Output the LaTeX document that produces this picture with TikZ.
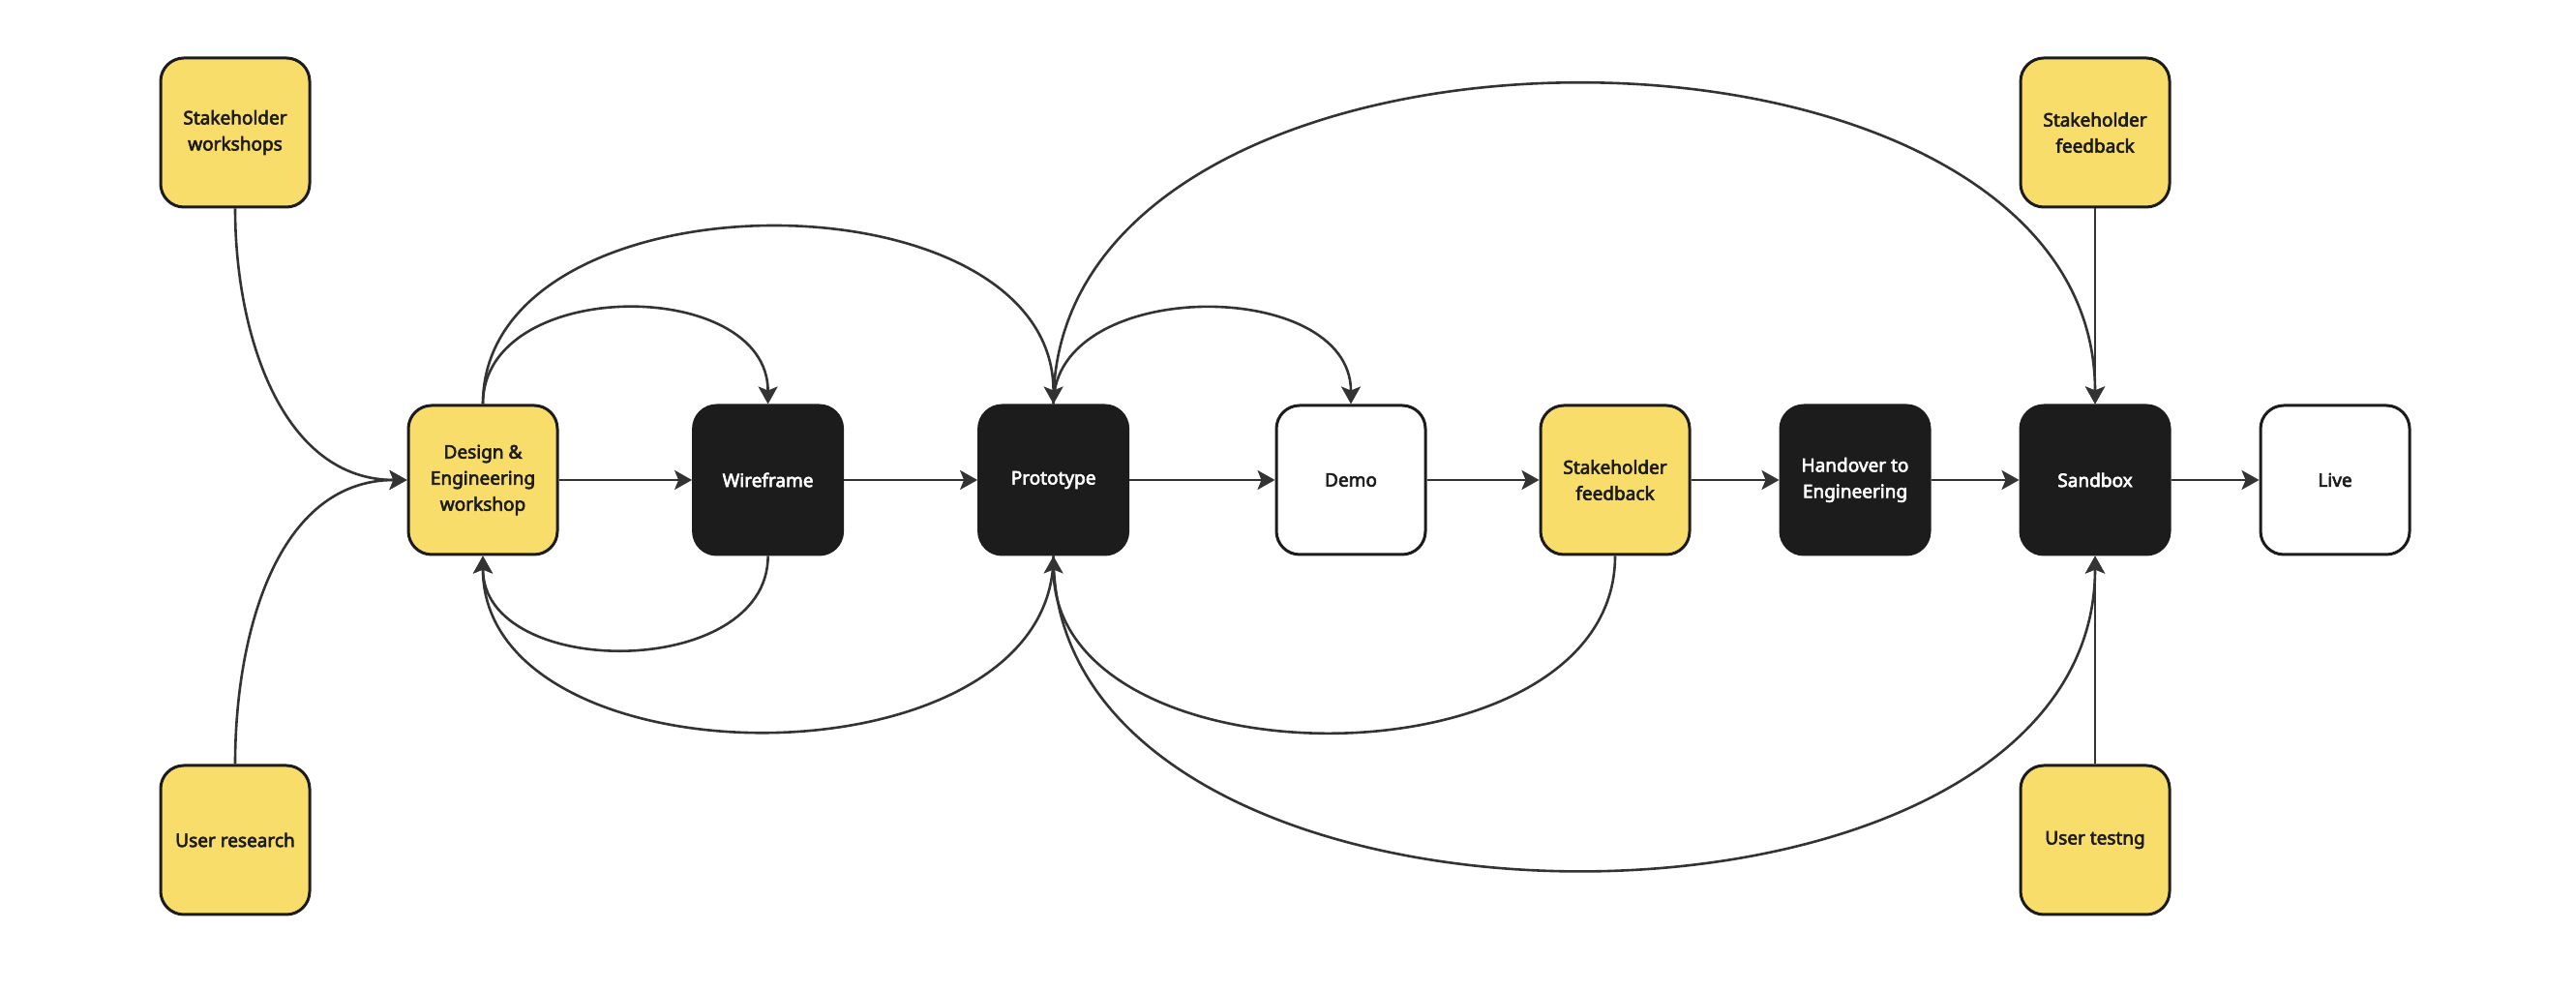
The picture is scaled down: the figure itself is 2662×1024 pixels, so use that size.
\documentclass[tikz,border=0pt]{standalone}
\usepackage{fontspec}
\setmainfont{Noto Sans}[AutoFakeBold=3.2]
\usetikzlibrary{positioning,arrows.meta}
\definecolor{stickyyellow}{HTML}{F9DD6B}
\definecolor{inkblack}{HTML}{1C1C1C}
\definecolor{linegray}{HTML}{333333}
\begin{document}
\begin{tikzpicture}[x=0.25pt,y=0.25pt,
    every node/.style={shape=rectangle, rounded corners=6pt,
          draw=inkblack, line width=0.75pt, align=center, inner sep=0pt,
          minimum width=38.5pt, minimum height=38.5pt, text=inkblack,
          font=\fontsize{4.75}{6.75}\selectfont\bfseries},
    yellowbox/.style={fill=stickyyellow},
    darkbox/.style={fill=inkblack, text=white},
    plainbox/.style={fill=white},
    link/.style={draw=linegray, line width=0.65pt,
          -{Stealth[length=4.5pt,width=5pt,inset=1pt]}}]
    \useasboundingbox (0,0) rectangle (2662,1024);
    \node[yellowbox] (de) at (499,528) {Design \&\\Engineering\\workshop};
    \node[darkbox, right=34.4pt of de] (wf) {Wireframe};
    \node[darkbox, right=34.5pt of wf] (pt) {Prototype};
    \node[plainbox, right=37.6pt of pt] (demo) {Demo};
    \node[yellowbox, right=29pt of demo] (sf) {Stakeholder\\feedback};
    \node[darkbox, right=22.75pt of sf] (ho) {Handover to\\Engineering};
    \node[darkbox, right=22.75pt of ho] (sb) {Sandbox};
    \node[plainbox, right=22.75pt of sb] (live) {Live};
    \node[yellowbox, above left=50.5pt and 24.75pt of de] (sw) {Stakeholder\\workshops};
    \node[yellowbox, below left=53.75pt and 24.75pt of de] (ur) {User research};
    \node[yellowbox, above=50.5pt of sb] (sft) {Stakeholder\\feedback};
    \node[yellowbox, below=53.75pt of sb] (ut) {User testng};

    \foreach \a/\b in {de/wf,wf/pt,pt/demo,demo/sf,sf/ho,ho/sb,sb/live,sft/sb,ut/sb}
      \draw[link] (\a) -- (\b);
    \draw[link] (sw.south) to[out=-90,in=180] (de.west);
    \draw[link] (ur.north) to[out=90,in=180] (de.west);
    \draw[link] (de.north) to[out=90,in=90,looseness=1.15] (wf.north);
    \draw[link] (de.north) to[out=90,in=90,looseness=1.06] (pt.north);
    \draw[link] (wf.south) to[out=-90,in=-90,looseness=1.12] (de.south);
    \draw[link] (pt.south) to[out=-90,in=-90,looseness=1.05] (de.south);
    \draw[link] (pt.north) to[out=90,in=90,looseness=1.1] (demo.north);
    \draw[link] (pt.north) to[out=90,in=90,looseness=1.05] (sb.north);
    \draw[link] (sf.south) to[out=-90,in=-90,looseness=1.07] (pt.south);
    \draw[link] (pt.south) to[out=-90,in=-90,looseness=1.03] (sb.south);
  \end{tikzpicture}
\end{document}
